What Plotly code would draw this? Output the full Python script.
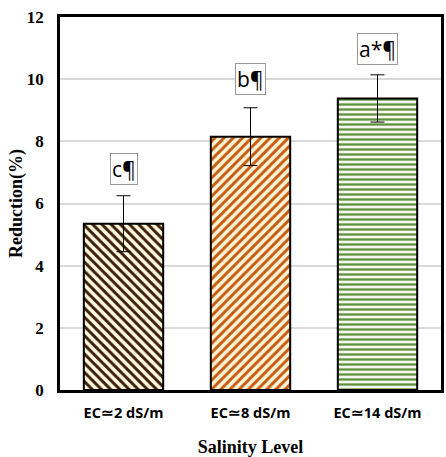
import plotly.graph_objects as go

categories = ["EC\u22432 dS/m", "EC\u22438 dS/m", "EC\u224314 dS/m"]
reduction = [5.35, 8.15, 9.38]
errors = [0.9, 0.93, 0.76]
letters = ["c\u00b6", "b\u00b6", "a*\u00b6"]
letter_y = [7.12, 10.0, 10.96]

fg_colors = ["#3a1c08", "#c55a11", "#5f8f3a"]
bg_colors = ["#fffbe0", "#fff4d6", "#f4f8ef"]
shapes_pat = ["\\", "/", "-"]
pat_sizes = [6.5, 6.5, 5]

fig = go.Figure()
for c, v, e, fg, bg, sh, ps in zip(categories, reduction, errors, fg_colors, bg_colors, shapes_pat, pat_sizes):
    fig.add_trace(go.Bar(
        x=[c], y=[v],
        width=0.625,
        marker=dict(
            color=bg, opacity=1,
            line=dict(color="black", width=2),
            pattern=dict(shape=sh, fgcolor=fg, bgcolor=bg, size=ps, solidity=0.45,
                         fgopacity=1),
        ),
        error_y=dict(type="data", array=[e], visible=True, color="black",
                     thickness=1, width=7),
        showlegend=False,
    ))

for c, t, yv in zip(categories, letters, letter_y):
    fig.add_annotation(x=c, y=yv, text=t, showarrow=False,
                       font=dict(family="Open Sans, Liberation Sans", size=21, color="black"),
                       bgcolor="white", bordercolor="#999999", borderwidth=1, borderpad=1)

fig.update_layout(
    width=446, height=457,
    margin=dict(l=60, r=2, t=17, b=66),
    paper_bgcolor="white", plot_bgcolor="white",
    barmode="overlay",
    xaxis=dict(showline=True, linecolor="black", linewidth=3, mirror=True,
               ticks="", ticklabelstandoff=8,
               tickfont=dict(family="Open Sans, Liberation Sans", size=14.5, color="black",
                             weight="bold"),
               title=dict(text="Salinity Level", standoff=20,
                          font=dict(family="Liberation Serif", size=18, color="black",
                                    weight="bold"))),
    yaxis=dict(range=[0, 12], dtick=2, showline=True, linecolor="black", linewidth=2.5,
               mirror=True, showgrid=True, gridcolor="#d9d9d9", gridwidth=1.5,
               zeroline=False, ticks="", ticklabelstandoff=10,
               tickprefix="<b>", ticksuffix="</b>",
               tickfont=dict(family="Liberation Serif", size=17, color="black", weight=900),
               title=dict(text="Reduction(%)", standoff=0,
                          font=dict(family="Liberation Serif", size=18, color="black",
                                    weight="bold"))),
)

fig.write_html("out.html", config={"displayModeBar": False},
               post_script="document.body.style.margin='0';document.body.style.padding='0';")
